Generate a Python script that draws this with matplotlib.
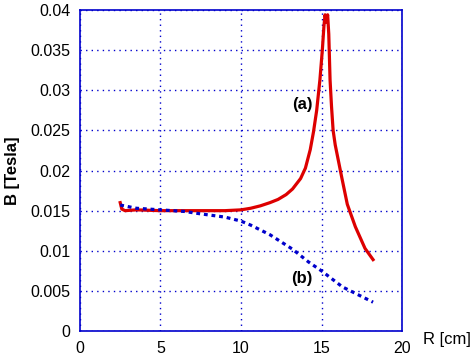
import numpy as np
import matplotlib.pyplot as plt

plt.rcParams['font.family'] = ['Liberation Sans', 'DejaVu Sans']

# curve (a)
r_a = [2.5, 2.6, 2.8, 3.5, 5.0, 7.0, 9.0, 10.0, 10.6, 11.2, 11.8, 12.3, 12.8, 13.2, 13.7,
       14.0, 14.3, 14.5, 14.7, 14.9, 15.05, 15.15, 15.22, 15.3, 15.38, 15.45, 15.53,
       15.62, 15.72, 15.85, 16.0, 16.25, 16.6, 17.1, 17.7, 18.2]
b_a = [0.0160, 0.0152, 0.0150, 0.0151, 0.0150, 0.0150, 0.0150, 0.0151, 0.0153, 0.0156,
       0.0160, 0.0164, 0.0170, 0.0177, 0.0190, 0.0203, 0.0226, 0.0248, 0.0275, 0.0313,
       0.0350, 0.0380, 0.0394, 0.0385, 0.0394, 0.0370, 0.0313, 0.0280, 0.0250, 0.0232,
       0.0217, 0.0192, 0.0158, 0.0130, 0.0103, 0.0089]

# curve (b)
r_b = [2.5, 3.5, 5.0, 6.5, 7.5, 9.0, 10.0, 10.6, 11.8, 13.2, 14.2, 15.0, 16.3, 17.3, 18.2]
b_b = [0.0157, 0.0153, 0.0151, 0.0149, 0.0146, 0.0142, 0.0137, 0.0132, 0.0120, 0.0102,
       0.0086, 0.0075, 0.0055, 0.0045, 0.0036]

fig = plt.figure(figsize=(4.73, 3.56), dpi=100)
ax = fig.add_axes([0.169, 0.070, 0.681, 0.902])

ax.plot(r_a, b_a, color='#dd0000', linewidth=2.3)
ax.plot(r_b, b_b, color='#0000cc', linewidth=2.3, linestyle=(0, (1.2, 1.2)))

ax.set_xlim(0, 20)
ax.set_ylim(0, 0.04)
ax.set_xticks([0, 5, 10, 15, 20])
ax.set_yticks([0, 0.005, 0.01, 0.015, 0.02, 0.025, 0.03, 0.035, 0.04])
ax.set_yticklabels(['0', '0.005', '0.01', '0.015', '0.02', '0.025', '0.03', '0.035', '0.04'])
ax.grid(True, color='#0000cc', linestyle=(0, (1, 3)), linewidth=1)
ax.tick_params(length=0, labelsize=11.5, pad=7)
for s in ax.spines.values():
    s.set_color('#0000cc')
    s.set_linewidth(1.2)

ax.set_ylabel('B [Tesla]', fontsize=12, fontweight='bold', labelpad=7)
fig.text(0.995, 0.045, 'R [cm]', fontsize=12, ha='right', va='center')

ax.text(14.47, 0.0282, '(a)', fontsize=12, fontweight='bold', ha='right', va='center')
ax.text(14.47, 0.0066, '(b)', fontsize=12, fontweight='bold', ha='right', va='center')

plt.savefig('out.png', dpi=100)
